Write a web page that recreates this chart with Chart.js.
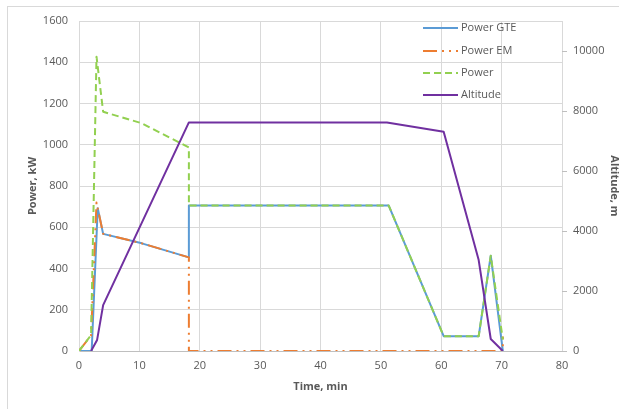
<!DOCTYPE html>
<html>
<head>
<meta charset="utf-8">
<script src="https://cdn.jsdelivr.net/npm/chart.js@4.4.0/dist/chart.umd.min.js"></script>
<style>
  html, body { margin: 0; padding: 0; background: #ffffff; }
  #wrap { width: 619px; height: 409px; position: relative; }
</style>
</head>
<body>
<div id="wrap"><canvas id="c" width="619" height="409"></canvas></div>
<script>
// ---- Data ----
const seriesNames = ['Power GTE', 'Power EM', 'Power', 'Altitude'];

const gteTime = [0, 2.1, 3.1, 4.0, 10.4, 18.2, 18.2, 51.3, 60.4, 66.2, 68.2, 70.2];
const gteKW   = [0, 0, 692, 568, 522, 454, 705, 705, 72, 72, 462, 0];

const emTime  = [0, 2.0, 2.9, 4.0, 10.4, 18.2, 18.2, 70.2, 70.2];
const emKW    = [0, 75, 720, 568, 522, 454, 0, 0, 70];

const powerTime = [0, 2.0, 2.9, 4.0, 10.4, 18.2, 18.2, 51.3, 60.4, 66.2, 68.2, 70.2];
const powerKW   = [0, 77, 1427, 1160, 1104, 987, 705, 705, 72, 72, 462, 55];

const altTime = [2.0, 3.0, 4.0, 18.2, 51.0, 60.4, 66.2, 68.2, 70.2];
const altM    = [0, 370, 1530, 7620, 7620, 7310, 3030, 400, 0];

const xTickValues  = [0, 10, 20, 30, 40, 50, 60, 70, 80];
const yTickValues  = [0, 200, 400, 600, 800, 1000, 1200, 1400, 1600];
const y2TickValues = [0, 2000, 4000, 6000, 8000, 10000];
const xMax = 80, yMax = 1600, y2Max = 11000;

const toPts = (xs, ys) => xs.map((x, i) => ({ x: x, y: ys[i] }));
const setTicks = (vals) => (s) => { s.ticks = vals.map(v => ({ value: v })); };
const plain = (v) => String(v);

const FONT = '"Open Sans", "Liberation Sans", sans-serif';
const GRAY = '#595959';

// Chart frame border (Excel chart area border)
const framePlugin = {
  id: 'frame',
  beforeDraw(chart) {
    const ctx = chart.ctx;
    ctx.save();
    ctx.fillStyle = '#ffffff';
    ctx.fillRect(0, 0, chart.width, chart.height);
    ctx.strokeStyle = '#d9d9d9';
    ctx.lineWidth = 1;
    ctx.strokeRect(7.5, 6.5, chart.width + 20, chart.height + 20);
    ctx.restore();
  }
};

// Legend drawn inside the plot, top right, vertical list
const insideLegend = {
  id: 'insideLegend',
  afterDraw(chart) {
    const ctx = chart.ctx;
    const x0 = 423, x1 = 458, tx = 461;
    const rows = [28, 51, 73, 95];
    ctx.save();
    chart.data.datasets.forEach((ds, i) => {
      const y = rows[i];
      ctx.beginPath();
      ctx.strokeStyle = ds.borderColor;
      ctx.lineWidth = ds.borderWidth;
      ctx.setLineDash(ds.borderDash || []);
      ctx.moveTo(x0, y);
      ctx.lineTo(x1, y);
      ctx.stroke();
      ctx.setLineDash([]);
      ctx.fillStyle = GRAY;
      ctx.font = '11px ' + FONT;
      ctx.textBaseline = 'middle';
      ctx.textAlign = 'left';
      ctx.fillText(ds.label, tx, y);
    });
    ctx.restore();
  }
};

new Chart(document.getElementById('c'), {
  type: 'line',
  data: {
    datasets: [
      {
        label: seriesNames[0],
        data: toPts(gteTime, gteKW),
        borderColor: '#5B9BD5',
        borderWidth: 2,
        yAxisID: 'y',
        order: 4
      },
      {
        label: seriesNames[1],
        data: toPts(emTime, emKW),
        borderColor: '#ED7D31',
        borderWidth: 2,
        borderDash: [14, 5, 2, 5, 2, 5],
        yAxisID: 'y',
        order: 3
      },
      {
        label: seriesNames[2],
        data: toPts(powerTime, powerKW),
        borderColor: '#92D050',
        borderWidth: 2,
        borderDash: [7, 4],
        yAxisID: 'y',
        order: 2
      },
      {
        label: seriesNames[3],
        data: toPts(altTime, altM),
        borderColor: '#7030A0',
        borderWidth: 2,
        yAxisID: 'y2',
        order: 1
      }
    ]
  },
  options: {
    responsive: false,
    animation: false,
    devicePixelRatio: 1,
    layout: { padding: { left: 0, right: 0, top: 21, bottom: 0 } },
    elements: {
      point: { radius: 0 },
      line: { tension: 0, fill: false, borderCapStyle: 'butt', borderJoinStyle: 'round' }
    },
    plugins: {
      legend: { display: false },
      tooltip: { enabled: false }
    },
    scales: {
      x: {
        type: 'linear',
        min: 0,
        max: xMax,
        afterBuildTicks: setTicks(xTickValues),
        afterFit(s) { s.height = 58; },
        ticks: { callback: plain, color: GRAY, padding: 8, font: { family: FONT, size: 11 } },
        grid: { color: '#d9d9d9', drawTicks: false, lineWidth: 1 },
        border: { color: '#bfbfbf' },
        title: {
          display: true,
          text: 'Time, min',
          color: GRAY,
          font: { family: FONT, size: 11, weight: 'bold' },
          padding: { top: 0, bottom: 16 }
        }
      },
      y: {
        type: 'linear',
        position: 'left',
        min: 0,
        max: yMax,
        afterBuildTicks: setTicks(yTickValues),
        afterFit(s) { s.width = 79; },
        ticks: { callback: plain, color: GRAY, padding: 11, font: { family: FONT, size: 11 } },
        grid: { color: '#d9d9d9', drawTicks: false, lineWidth: 1 },
        border: { color: '#d9d9d9' },
        title: {
          display: true,
          text: 'Power, kW',
          color: GRAY,
          font: { family: FONT, size: 11, weight: 'bold' },
          padding: { top: 26, bottom: 0 }
        }
      },
      y2: {
        type: 'linear',
        position: 'right',
        min: 0,
        max: y2Max,
        afterBuildTicks: setTicks(y2TickValues),
        afterFit(s) { s.width = 57; },
        ticks: { callback: plain, color: GRAY, padding: 6, font: { family: FONT, size: 11 } },
        grid: { drawOnChartArea: false, drawTicks: true, tickLength: 5, color: '#bfbfbf' },
        border: { display: false },
        title: {
          display: true,
          text: 'Altitude, m',
          color: GRAY,
          font: { family: FONT, size: 11, weight: 'bold' },
          padding: { top: -2, bottom: 0 }
        }
      }
    }
  },
  plugins: [framePlugin, insideLegend]
});
</script>
</body>
</html>
